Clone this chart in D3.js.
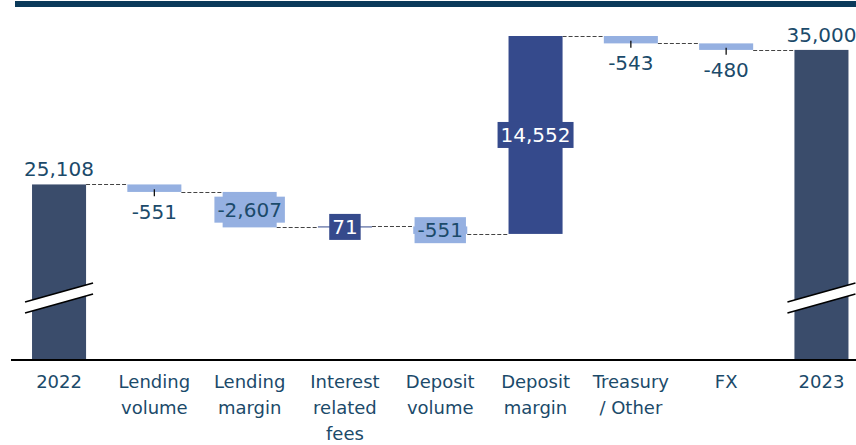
<!DOCTYPE html>
<html>
<head>
<meta charset="utf-8">
<script src="https://cdn.jsdelivr.net/npm/d3@7"></script>
<style>
    body { margin: 0; background: #fff; }
    svg { display: block; font-family: 'DejaVu Sans', sans-serif; }
</style>
</head>
<body>
<svg class="waterfall" width="856" height="445"></svg>
<script>
// data
const categories = ['2022', 'Lending volume', 'Lending margin', 'Interest related fees',
    'Deposit volume', 'Deposit margin', 'Treasury / Other', 'FX', '2023'];
const labelLines = [['2022'], ['Lending', 'volume'], ['Lending', 'margin'], ['Interest', 'related', 'fees'],
    ['Deposit', 'volume'], ['Deposit', 'margin'], ['Treasury', '/ Other'], ['FX'], ['2023']];
const values = [25108, -551, -2607, 71, -551, 14552, -543, -480, 35000];
const isTotal = [true, false, false, false, false, false, false, false, true];
const valueLabels = ['25,108', '-551', '-2,607', '71', '-551', '14,552', '-543', '-480', '35,000'];

const colTotal = '#3a4c6b';
const colUp = '#354a8c';
const colDown = '#95b0e1';
const textCol = '#1b4a6a';

// which labels sit on the bar with a filled box
const boxed = new Set(['Lending margin', 'Interest related fees', 'Deposit volume', 'Deposit margin']);

const svg = d3.select('.waterfall');

// build running steps
let run = 0;
const steps = categories.map((c, i) => {
    let y0, y1;
    if (isTotal[i]) {
        y0 = null; y1 = values[i]; run = values[i];
    } else {
        y0 = run; y1 = run + values[i]; run = y1;
    }
    return { cat: c, i, v: values[i], y0, y1, total: isTotal[i] };
});

const x = d3.scaleBand()
    .domain(categories)
    .range([11.4, 869.1])
    .paddingInner(0.433)
    .paddingOuter(0.2165);

// broken axis: baseline is not zero
const y = d3.scaleLinear()
    .domain([12200, 37000])
    .range([360, 22.7]);

const baseY = y.range()[0];

// top rule
svg.append('rect')
    .attr('x', 15).attr('y', 1)
    .attr('width', 841).attr('height', 6)
    .attr('fill', '#0b3a5a');

const g = svg.append('g');

// connectors
for (let k = 0; k < steps.length - 1; k++) {
    const lvl = steps[k].y1;
    g.append('line')
        .attr('x1', x(steps[k].cat) + x.bandwidth())
        .attr('x2', x(steps[k + 1].cat))
        .attr('y1', Math.round(y(lvl)) + 0.5)
        .attr('y2', Math.round(y(lvl)) + 0.5)
        .attr('stroke', '#444')
        .attr('stroke-width', 1)
        .attr('stroke-dasharray', '4,2');
}

// bars
steps.forEach((d) => {
    let top, bot, fill;
    if (d.total) {
        top = y(d.y1); bot = baseY; fill = colTotal;
    } else {
        top = y(Math.max(d.y0, d.y1));
        bot = y(Math.min(d.y0, d.y1));
        fill = d.v >= 0 ? colUp : colDown;
    }
    g.append('rect')
        .attr('x', x(d.cat))
        .attr('y', top)
        .attr('width', x.bandwidth())
        .attr('height', Math.max(1, bot - top))
        .attr('fill', fill);
    d.top = top; d.bot = bot; d.fill = fill;
});

// axis break marks on total bars
steps.filter((d) => d.total).forEach((d) => {
    const bx = x(d.cat) + x.bandwidth() / 2;
    const x1 = bx - 34, x2 = bx + 34;
    const brk = g.append('g');
    brk.append('path')
        .attr('d', `M${x1},302 L${x2},283 L${x2},294 L${x1},313 Z`)
        .attr('fill', '#fff');
    [[302, 283], [313, 294]].forEach(([a, b]) => {
        brk.append('line')
            .attr('x1', x1).attr('y1', a)
            .attr('x2', x2).attr('y2', b)
            .attr('stroke', '#000')
            .attr('stroke-width', 1.6);
    });
});

// baseline
g.append('line')
    .attr('x1', 11).attr('x2', 856)
    .attr('y1', baseY).attr('y2', baseY)
    .attr('stroke', '#000')
    .attr('stroke-width', 2);

// value labels
steps.forEach((d) => {
    const cx = x(d.cat) + x.bandwidth() / 2;
    const txt = valueLabels[d.i];
    if (d.total) {
        g.append('text')
            .attr('x', cx).attr('y', d.top - 8)
            .attr('text-anchor', 'middle')
            .attr('font-size', 20)
            .attr('fill', textCol)
            .text(txt);
    } else if (boxed.has(d.cat)) {
        const cy = (d.top + d.bot) / 2;
        const t = g.append('text')
            .attr('x', cx).attr('y', cy)
            .attr('dy', '0.36em')
            .attr('text-anchor', 'middle')
            .attr('font-size', 20)
            .attr('fill', d.v >= 0 ? '#fff' : textCol)
            .text(txt);
        const bb = t.node().getBBox();
        g.insert('rect', () => t.node())
            .attr('x', bb.x - 3)
            .attr('y', cy - 13)
            .attr('width', bb.width + 6)
            .attr('height', 26)
            .attr('fill', d.fill);
    } else {
        const mid = (d.top + d.bot) / 2;
        g.append('line')
            .attr('x1', cx).attr('x2', cx)
            .attr('y1', mid + 1).attr('y2', mid + 8)
            .attr('stroke', '#111')
            .attr('stroke-width', 1.3);
        g.append('text')
            .attr('x', cx).attr('y', d.bot + 27)
            .attr('text-anchor', 'middle')
            .attr('font-size', 20)
            .attr('fill', textCol)
            .text(txt);
    }
});

// category labels
const cl = g.selectAll('.cat')
    .data(categories)
    .enter()
    .append('text')
    .attr('class', 'cat')
    .attr('x', (d) => x(d) + x.bandwidth() / 2)
    .attr('y', 388)
    .attr('text-anchor', 'middle')
    .attr('font-size', 18)
    .attr('fill', textCol);

cl.each(function (d, i) {
    const el = d3.select(this);
    labelLines[i].forEach((ln, j) => {
        el.append('tspan')
            .attr('x', x(d) + x.bandwidth() / 2)
            .attr('dy', j === 0 ? 0 : 26)
            .text(ln);
    });
});
</script>
</body>
</html>
